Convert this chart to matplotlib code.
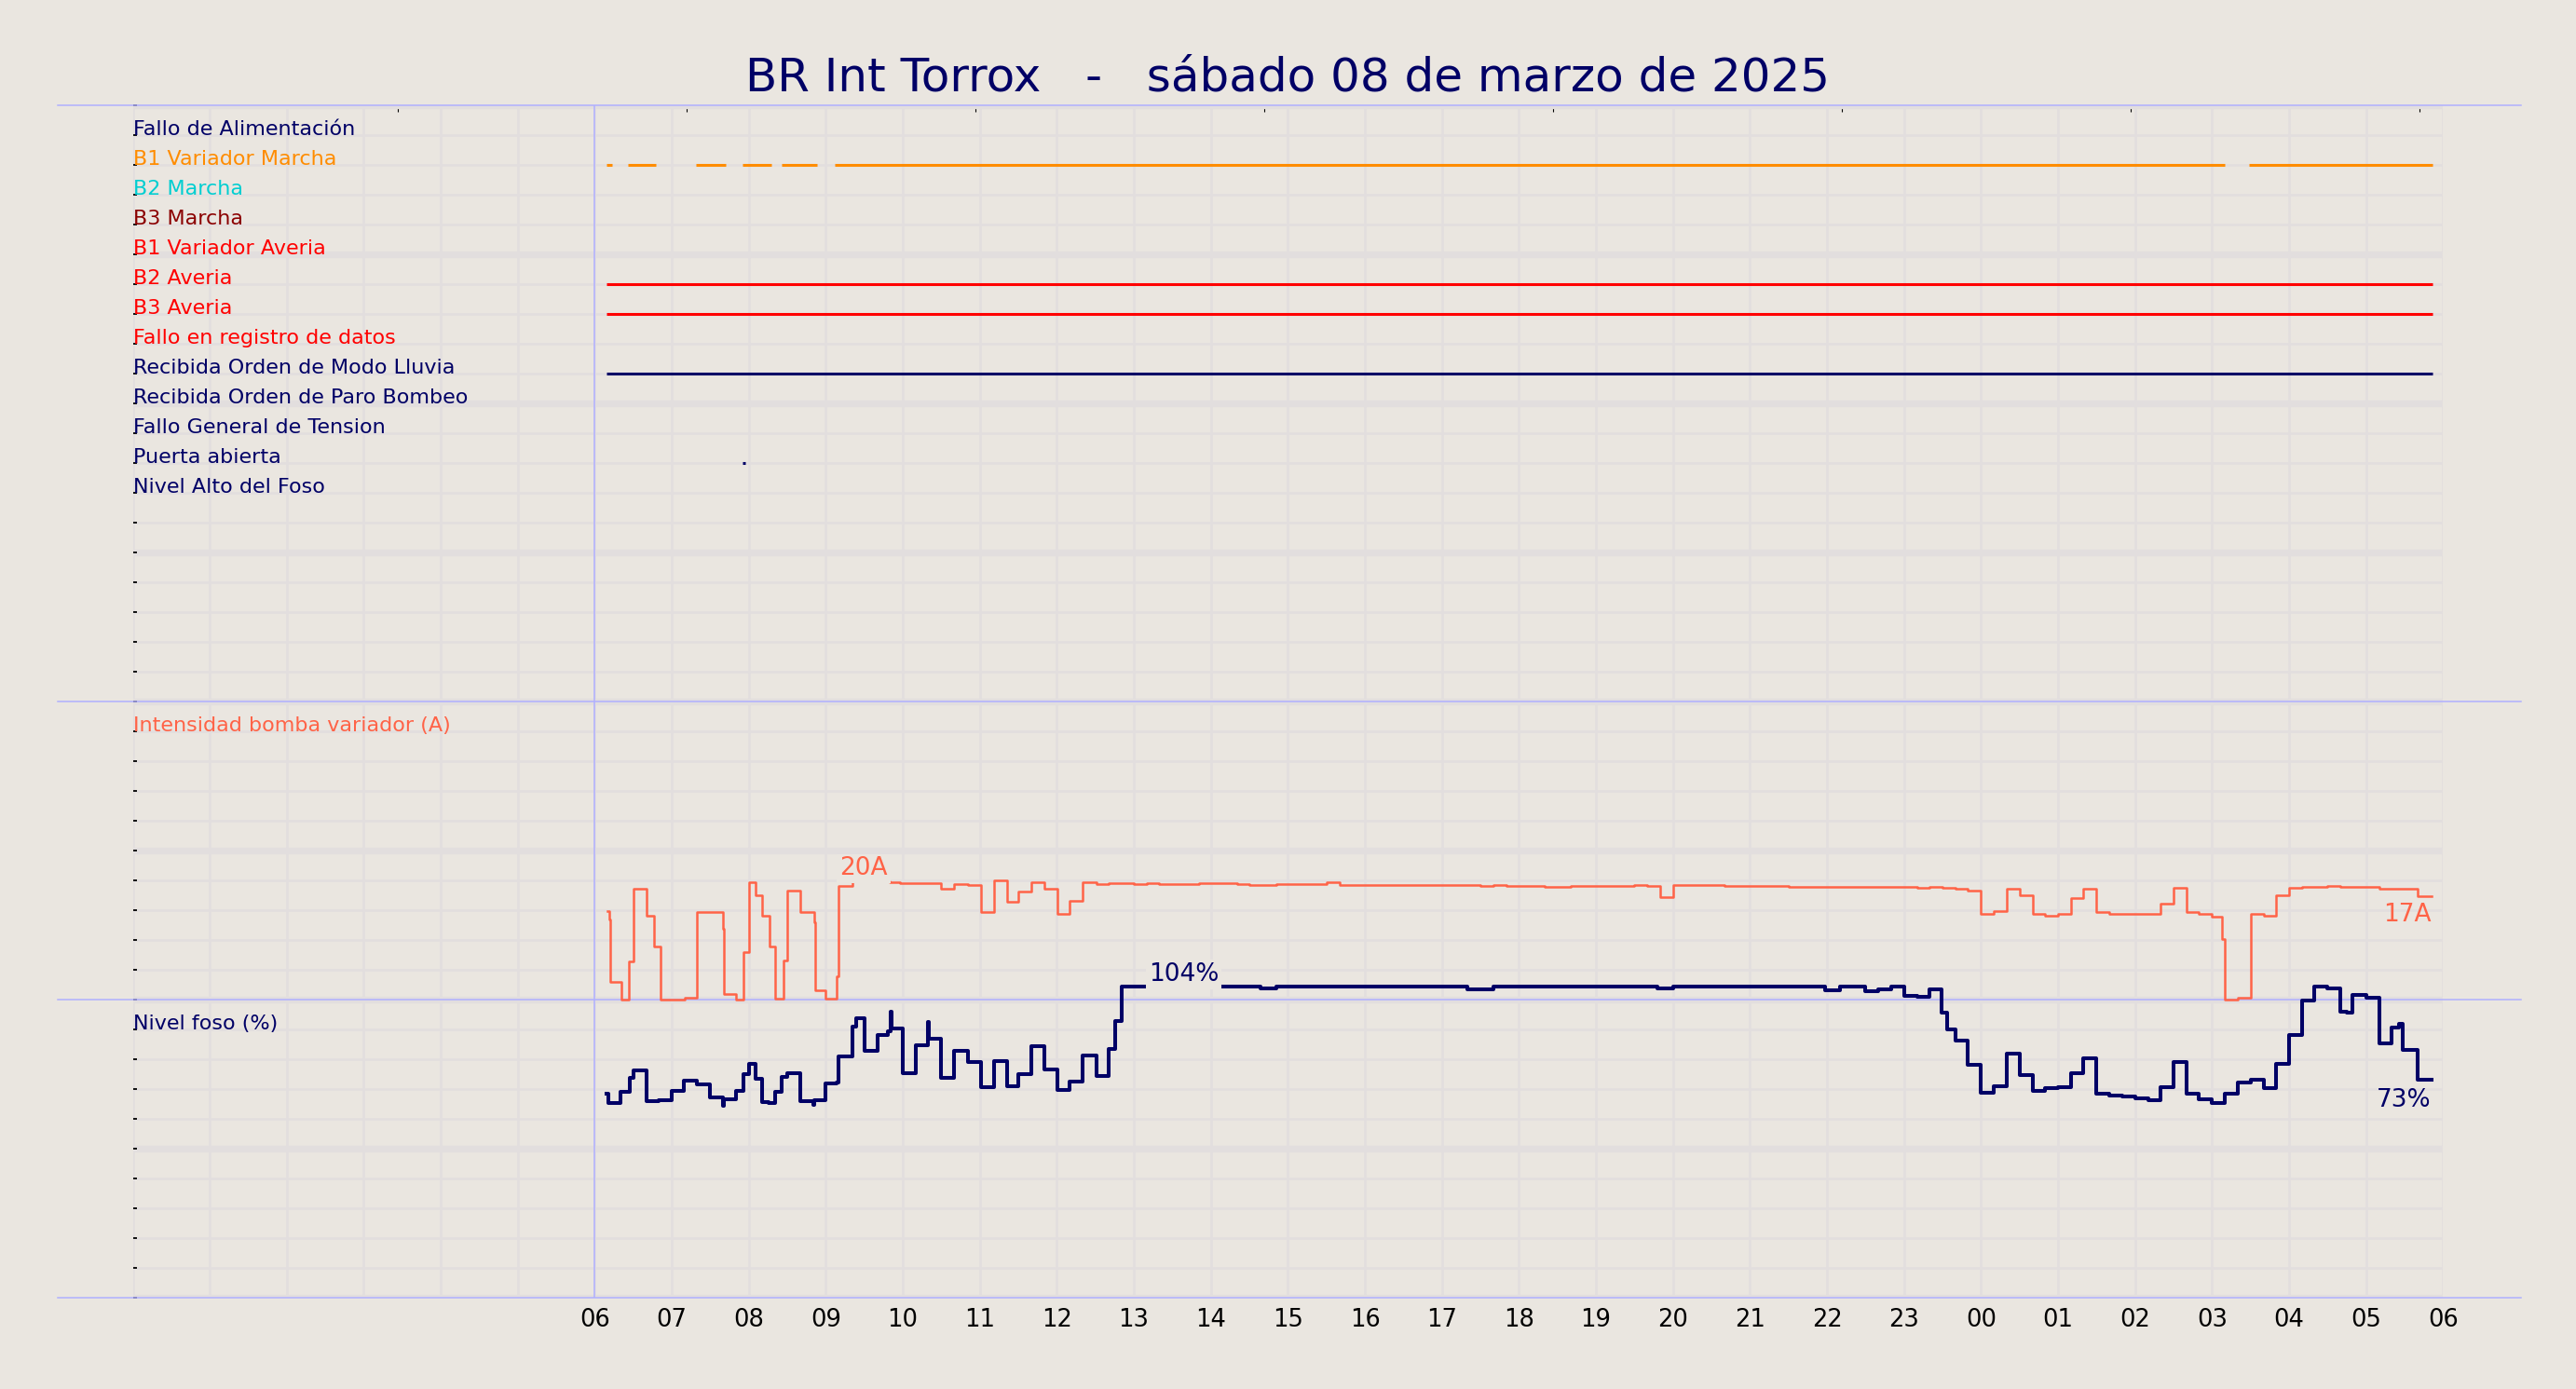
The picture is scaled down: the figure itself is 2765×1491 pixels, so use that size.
"""
plot.py - Digital/analog signal chart for BR Int Torrox, one day of data.
"""

import matplotlib
matplotlib.use("Agg")
import matplotlib.pyplot as plt
from matplotlib.ticker import MultipleLocator

BG = "#eae6e0"
GRID = "#e2dede"
BLUE = "#b0b0ff"
NAVY = "#000066"
TOMATO = "#ff6347"

TITLE = "BR Int Torrox   -   sábado 08 de marzo de 2025"

# x axis: hours from 00:00 of the day, labels from 06 to 06 of the next day
HOURS = list(range(0, 31))
HOUR_LABELS = ["" if h < 6 else f"{h % 24:02d}" for h in HOURS]
TOP_TICKS = [3.44, 7.19, 10.94, 14.69, 18.44, 22.19, 25.94, 29.69]

# digital signals, one per row
SIGNAL_NAMES = [
    "Fallo de Alimentación",
    "B1 Variador Marcha",
    "B2 Marcha",
    "B3 Marcha",
    "B1 Variador Averia",
    "B2 Averia",
    "B3 Averia",
    "Fallo en registro de datos",
    "Recibida Orden de Modo Lluvia",
    "Recibida Orden de Paro Bombeo",
    "Fallo General de Tension",
    "Puerta abierta",
    "Nivel Alto del Foso",
]
SIGNAL_COLORS = [
    NAVY, "#ff8c00", "#00ced1", "#8b0000", "#ff0000", "#ff0000", "#ff0000",
    "#ff0000", NAVY, NAVY, NAVY, NAVY, NAVY,
]
# active intervals (start hour, end hour)
SIGNAL_ON = {
    "B1 Variador Marcha": [(6.15, 6.22), (6.43, 6.79), (7.31, 7.70), (7.92, 8.29),
                           (8.42, 8.88), (9.11, 27.16), (27.48, 29.86)],
    "B2 Averia": [(6.15, 29.86)],
    "B3 Averia": [(6.15, 29.86)],
    "Recibida Orden de Modo Lluvia": [(6.15, 29.86)],
    "Puerta abierta": [(7.92, 7.96)],
}

# Intensidad bomba variador (A)
INT_T = [6.16, 6.19, 6.20, 6.35, 6.44, 6.50, 6.67, 6.77, 6.85, 7.17, 7.32, 7.33,
         7.66, 7.68, 7.83, 7.93, 8.00, 8.09, 8.17, 8.27, 8.34, 8.45, 8.50, 8.67,
         8.85, 8.86, 9.00, 9.14, 9.17, 9.34, 9.83, 9.96, 10.50, 10.67, 10.84,
         11.01, 11.18, 11.35, 11.50, 11.67, 11.84, 12.01, 12.16, 12.33, 12.51,
         12.67, 13.00, 13.17, 13.33, 13.85, 14.34, 14.50, 14.85, 15.50, 15.67,
         17.50, 17.67, 17.84, 18.34, 18.67, 19.50, 19.67, 19.83, 20.00, 20.67,
         21.50, 22.50, 23.17, 23.33, 23.50, 23.67, 23.83, 24.00, 24.17, 24.33,
         24.50, 24.67, 24.83, 25.00, 25.17, 25.33, 25.50, 25.67, 26.33, 26.50,
         26.67, 26.83, 27.00, 27.13, 27.17, 27.33, 27.50, 27.51, 27.67, 27.83,
         28.00, 28.17, 28.50, 28.67, 29.17, 29.67, 29.85]
INT_A = [14.8, 13.4, 3.0, 0.0, 6.3, 18.5, 14.1, 8.8, 0.0, 0.3, 1.1, 14.6,
         11.8, 0.9, 0.0, 7.9, 19.7, 17.5, 14.1, 8.8, 0.2, 6.6, 18.2, 14.6,
         13.0, 1.6, 0.2, 3.8, 19.0, 19.8, 19.7, 19.5, 18.5, 19.4, 19.2,
         14.6, 19.9, 16.4, 18.1, 19.7, 18.6, 14.4, 16.6, 19.7, 19.4,
         19.5, 19.4, 19.5, 19.4, 19.5, 19.4, 19.2, 19.4, 19.6, 19.2,
         19.0, 19.2, 19.0, 18.8, 19.0, 19.2, 19.0, 17.2, 19.2, 19.0,
         18.85, 18.8, 18.7, 18.85, 18.7, 18.5, 18.2, 14.3, 14.8, 18.5,
         17.4, 14.3, 14.1, 14.3, 17.0, 18.5, 14.7, 14.3, 16.0, 18.7,
         14.7, 14.3, 13.8, 10.2, 0.0, 0.25, 1.0, 14.3, 14.1, 17.4,
         18.7, 18.85, 19.0, 18.85, 18.5, 17.3, 17.3]

# Nivel foso (%)
NIV_T = [6.15, 6.17, 6.33, 6.45, 6.50, 6.67, 6.83, 7.00, 7.16, 7.33, 7.50, 7.66,
         7.67, 7.83, 7.93, 8.00, 8.09, 8.17, 8.26, 8.34, 8.43, 8.50, 8.67, 8.84,
         8.85, 9.00, 9.14, 9.17, 9.34, 9.39, 9.50, 9.67, 9.80, 9.84, 9.85, 10.00,
         10.17, 10.33, 10.34, 10.50, 10.67, 10.84, 11.01, 11.18, 11.35, 11.50,
         11.67, 11.84, 12.01, 12.16, 12.33, 12.51, 12.67, 12.76, 12.84, 14.65,
         14.85, 17.33, 17.67, 19.80, 20.00, 21.98, 22.17, 22.50, 22.67, 22.83,
         23.00, 23.17, 23.33, 23.49, 23.56, 23.67, 23.83, 24.00, 24.17, 24.33,
         24.50, 24.67, 24.83, 25.00, 25.17, 25.33, 25.50, 25.67, 25.83, 26.00,
         26.17, 26.33, 26.50, 26.67, 26.83, 27.00, 27.17, 27.33, 27.50, 27.67,
         27.83, 28.00, 28.17, 28.33, 28.50, 28.67, 28.75, 28.82, 29.00, 29.17,
         29.33, 29.43, 29.48, 29.67, 29.85]
NIV_P = [68.3, 65.2, 69.1, 73.8, 76.2, 65.8, 66.3, 69.4, 72.8, 71.5, 67.0, 64.4,
         66.5, 69.4, 74.8, 78.3, 73.3, 65.7, 65.3, 68.9, 74.0, 75.3, 66.0, 64.6,
         66.3, 71.7, 72.2, 80.8, 91.0, 93.6, 82.7, 88.2, 89.2, 95.9, 90.2, 75.3,
         84.7, 92.3, 86.8, 73.6, 82.9, 79.0, 70.5, 79.3, 70.9, 74.8,
         84.2, 76.6, 69.6, 72.5, 81.1, 74.3, 83.4, 92.7, 104.3, 103.8,
         104.3, 103.5, 104.3, 103.8, 104.3, 103.0, 104.3, 102.7, 103.5, 104.3,
         101.2, 100.9, 103.5, 95.7, 89.9, 86.3, 78.2, 68.8, 71.0, 81.8,
         74.5, 69.3, 70.2, 70.5, 75.3, 80.3, 68.4, 67.9, 67.5, 66.7,
         66.2, 70.7, 79.0, 68.3, 66.5, 65.2, 68.3, 72.0, 73.0, 70.2,
         78.5, 88.1, 99.6, 104.3, 103.8, 96.0, 95.7, 101.4, 100.6, 85.3,
         90.7, 91.8, 83.2, 73.2, 73.2]


def setup_base_axes(fig):
    ax = fig.add_axes([0.05154, 0.06586, 0.89685, 0.85849])
    ax.set_facecolor(BG)
    ax.set_xlim(0, 30)
    ax.set_ylim(40, 0)  # 40 rows: 20 digital, 10 intensity, 10 level

    ax.set_xticks(HOURS)
    ax.set_xticklabels(HOUR_LABELS)
    ax.tick_params(axis="x", length=0, labelsize=18.5, pad=8)

    ax.yaxis.set_major_locator(MultipleLocator(5))
    ax.yaxis.set_minor_locator(MultipleLocator(1))
    ax.tick_params(axis="y", which="both", direction="in", length=3.2, width=1.3,
                   left=True, right=True, labelleft=False)

    ax.grid(axis="x", color=GRID, lw=1.9)
    ax.grid(axis="y", which="major", color=GRID, lw=5.3)
    ax.grid(axis="y", which="minor", color=GRID, lw=1.9)
    ax.set_axisbelow(True)
    for s in ax.spines.values():
        s.set_visible(False)

    # small ticks along the top edge
    top = ax.secondary_xaxis("top")
    top.set_xticks(TOP_TICKS)
    top.tick_params(direction="in", length=5.3, width=0.8, labeltop=False)
    top.spines["top"].set_visible(False)

    # section separators
    for r in [0, 20, 30, 40]:
        ax.axhline(r, xmin=-0.0325, xmax=1.0337, color=BLUE, lw=1.1,
                   clip_on=False, zorder=1)
    ax.axvline(6, color=BLUE, lw=1.1, zorder=1)
    return ax


def draw_signals(ax):
    for row, (name, color) in enumerate(zip(SIGNAL_NAMES, SIGNAL_COLORS), start=1):
        ax.text(0.01, row, name, color=color, fontsize=16, va="baseline")
        for start, end in SIGNAL_ON.get(name, []):
            ax.plot([start, end], [row, row], color=color, lw=2.2,
                    solid_capstyle="butt")
    ax.text(0.01, 21, "Intensidad bomba variador (A)", color=TOMATO,
            fontsize=16, va="baseline")
    ax.text(0.01, 31, "Nivel foso (%)", color=NAVY, fontsize=16, va="baseline")


def overlay_axes(ax, ylim):
    tw = ax.twinx()
    tw.set_ylim(*ylim)
    tw.set_yticks([])
    for s in tw.spines.values():
        s.set_visible(False)
    return tw


def main():
    fig = plt.figure(figsize=(27.65, 14.91), dpi=100, facecolor=BG)
    ax = setup_base_axes(fig)
    draw_signals(ax)

    # intensity: 0 A on row 30, 5 A per row
    ax_i = overlay_axes(ax, (-50, 150))
    ax_i.plot(INT_T, INT_A, drawstyle="steps-post", color=TOMATO, lw=1.8)
    box = dict(facecolor=BG, edgecolor="none", pad=2)
    imax = max(INT_A)
    ax_i.text(9.18, imax, f"{round(imax)}A", color=TOMATO, fontsize=19,
              ha="left", va="bottom", bbox=box, zorder=5)
    ax_i.text(INT_T[-1], INT_A[-1] - 1.1, f"{round(INT_A[-1])}A", color=TOMATO,
              fontsize=19, ha="right", va="top")

    # pit level: 0 % on row 40, 10 % per row
    ax_n = overlay_axes(ax, (0, 400))
    ax_n.plot(NIV_T, NIV_P, drawstyle="steps-post", color=NAVY, lw=2.9)
    nmax = max(NIV_P)
    ax_n.text(13.19, nmax, f"{round(nmax)}%", color=NAVY, fontsize=19,
              ha="left", va="bottom", bbox=box, zorder=5)
    ax_n.text(NIV_T[-1], NIV_P[-1] - 2.9, f"{round(NIV_P[-1])}%", color=NAVY,
              fontsize=19, ha="right", va="top")

    fig.text(0.5, 1 - 98 / 1491, TITLE, color=NAVY, fontsize=36,
             ha="center", va="baseline")

    fig.savefig("out.png", dpi=100, facecolor=BG)
    plt.close(fig)


if __name__ == "__main__":
    main()
